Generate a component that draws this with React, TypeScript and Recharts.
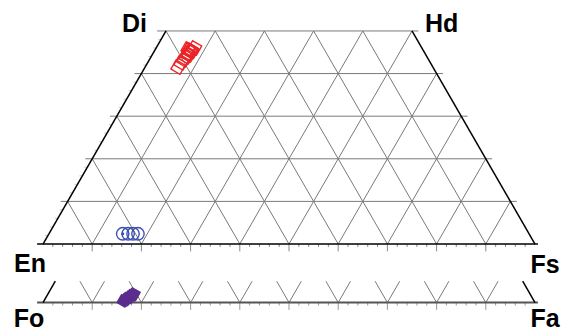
import { ScatterChart, Scatter, XAxis, YAxis, ReferenceLine, ReferenceDot } from 'recharts';

// height factor of an equilateral ternary
const H = Math.sqrt(3) / 2;

// clinopyroxene compositions (mol% Wo, Fs)
const cpxWo = [41.5, 42.5, 43.2, 43.9, 44.4, 44.8, 45.3, 45.5, 45.8, 46.0, 45.1, 45.5];
const cpxFs = [6.7, 6.8, 7.0, 7.2, 7.4, 7.0, 7.6, 7.3, 6.6, 7.8, 7.5, 6.9];

// orthopyroxene compositions (mol% Wo, Fs)
const opxWo = [2.4, 2.4, 2.4, 2.4];
const opxFs = [15.0, 16.1, 17.1, 18.1];

// olivine compositions (mol% Fa, minor Ca component)
const olFa = [16.1, 16.4, 16.6, 16.9, 17.1, 17.4, 17.5];
const olCa = [0.4, 0.6, 0.9, 1.2, 1.6, 1.8, 2.0];

// vertical position of the Fo-Fa line below the quadrilateral
const OL_BASE = -11.9;

type P = { x: number; y: number };
type Seg = [P, P];

const pt = (fs: number, wo: number, base = 0): P => ({ x: fs + wo / 2, y: wo * H + base });

const gridLines: Seg[] = [];
const edgeLines: Seg[] = [];
const ticks: { seg: Seg; color: string }[] = [];

for (let f = 10; f <= 90; f += 10) {
  // constant Fs and constant En lines inside the quadrilateral
  gridLines.push([pt(f, 0), pt(f, Math.min(50, 100 - f))]);
  const w = Math.min(50, f);
  gridLines.push([pt(f, 0), pt(f - w, w)]);
  // small V marks on the olivine line
  gridLines.push([pt(f, 0, OL_BASE), pt(f, 5, OL_BASE)]);
  gridLines.push([pt(f, 0, OL_BASE), pt(f - 5, 5, OL_BASE)]);
}
for (let wo = 10; wo <= 50; wo += 10) {
  const a = pt(0, wo);
  const b = pt(100 - wo, wo);
  gridLines.push([{ x: a.x - (wo === 50 ? 1.8 : 1.4), y: a.y }, { x: b.x + 1.3, y: b.y }]);
}
for (let v = 2; v < 100; v += 2) {
  const major = v % 10 === 0;
  const len = major ? 1.5 : 0.6;
  ticks.push({ seg: [{ x: v, y: 0 }, { x: v, y: -len }], color: '#888' });
  ticks.push({ seg: [{ x: v, y: OL_BASE }, { x: v, y: OL_BASE - len }], color: '#999' });
}
for (let wo = 2; wo < 50; wo += 2) {
  if (wo % 10 === 0) continue;
  const a = pt(0, wo);
  ticks.push({ seg: [{ x: a.x - 0.6, y: a.y }, a], color: '#ccc' });
}

edgeLines.push([pt(0, 0), pt(0, 50)]);
edgeLines.push([pt(100, 0), pt(50, 50)]);
edgeLines.push([pt(0, 0, OL_BASE), pt(0, 5, OL_BASE)]);
edgeLines.push([pt(100, 0, OL_BASE), pt(95, 5, OL_BASE)]);

const cpxData = cpxWo.map((wo, i) => pt(cpxFs[i], wo));
const opxData = opxWo.map((wo, i) => ({ ...pt(opxFs[i], wo), dot: i === 0 }));
const olData = olFa.map((fa, i) => pt(fa, olCa[i], OL_BASE));

const RED = '#ec2327';
const BLUE = '#3d50b2';
const PURPLE = '#5b2d8e';
const FONT = '"Liberation Sans", Arial, sans-serif';

const squareShape = (fill: string, stroke: string, size: number) => (p: any) => (
  <rect
    x={p.cx - size / 2}
    y={p.cy - size / 2}
    width={size}
    height={size}
    fill={fill}
    stroke={stroke}
    strokeWidth={1.4}
    transform={`rotate(30 ${p.cx} ${p.cy})`}
  />
);

const circleShape = (p: any) => (
  <g>
    <circle cx={p.cx} cy={p.cy} r={6.2} fill="none" stroke={BLUE} strokeWidth={1.4} />
    {p.payload?.dot && <circle cx={p.cx} cy={p.cy} r={1.6} fill={BLUE} />}
  </g>
);

const endLabel = (txt: string, anchor: 'start' | 'middle' | 'end', dx: number, dy: number) => (p: any) => (
  <text x={p.cx + dx} y={p.cy + dy} textAnchor={anchor} fontFamily={FONT} fontWeight="bold" fontSize={25} fill="#000">
    {txt}
  </text>
);

const labels = [
  { txt: 'Di', at: pt(0, 50), anchor: 'end' as const, dx: -19, dy: 1 },
  { txt: 'Hd', at: pt(50, 50), anchor: 'start' as const, dx: 13, dy: 1 },
  { txt: 'En', at: pt(0, 0), anchor: 'middle' as const, dx: -13, dy: 28 },
  { txt: 'Fs', at: pt(100, 0), anchor: 'middle' as const, dx: 10, dy: 29 },
  { txt: 'Fo', at: pt(0, 0, OL_BASE), anchor: 'middle' as const, dx: -14, dy: 24.5 },
  { txt: 'Fa', at: pt(100, 0, OL_BASE), anchor: 'middle' as const, dx: 10, dy: 24.5 },
];

export default function App() {
  return (
    <div style={{ position: 'absolute', left: 0, top: 0, width: 564, height: 333, background: '#fff' }}>
      <ScatterChart width={564} height={333} margin={{ top: 17.68, right: 29, bottom: 10.28, left: 43 }}>
        <XAxis type="number" dataKey="x" domain={[0, 100]} allowDataOverflow hide />
        <YAxis type="number" dataKey="y" domain={[-16, 46]} allowDataOverflow hide />

        {gridLines.map((s, i) => (
          <ReferenceLine key={`g${i}`} segment={s} stroke="#7a7a7a" strokeWidth={1} ifOverflow="visible" />
        ))}
        {ticks.map((t, i) => (
          <ReferenceLine key={`t${i}`} segment={t.seg} stroke={t.color} strokeWidth={1} ifOverflow="visible" />
        ))}
        <ReferenceLine
          segment={[{ x: -1.2, y: OL_BASE }, { x: 100.6, y: OL_BASE }]}
          stroke="#555"
          strokeWidth={2}
          ifOverflow="visible"
        />
        <ReferenceLine
          segment={[{ x: -1.2, y: 0 }, { x: 100.6, y: 0 }]}
          stroke="#000"
          strokeWidth={1.5}
          ifOverflow="visible"
        />
        {edgeLines.map((s, i) => (
          <ReferenceLine key={`e${i}`} segment={s} stroke="#000" strokeWidth={1.5} ifOverflow="visible" />
        ))}

        <Scatter data={opxData} shape={circleShape} isAnimationActive={false} />
        <Scatter data={cpxData} shape={squareShape('none', RED, 10.5)} isAnimationActive={false} />
        <Scatter data={olData} shape={squareShape(PURPLE, PURPLE, 9)} isAnimationActive={false} />

        {labels.map((l) => (
          <ReferenceDot
            key={l.txt}
            x={l.at.x}
            y={l.at.y}
            r={0}
            ifOverflow="visible"
            shape={endLabel(l.txt, l.anchor, l.dx, l.dy)}
          />
        ))}
      </ScatterChart>
    </div>
  );
}
